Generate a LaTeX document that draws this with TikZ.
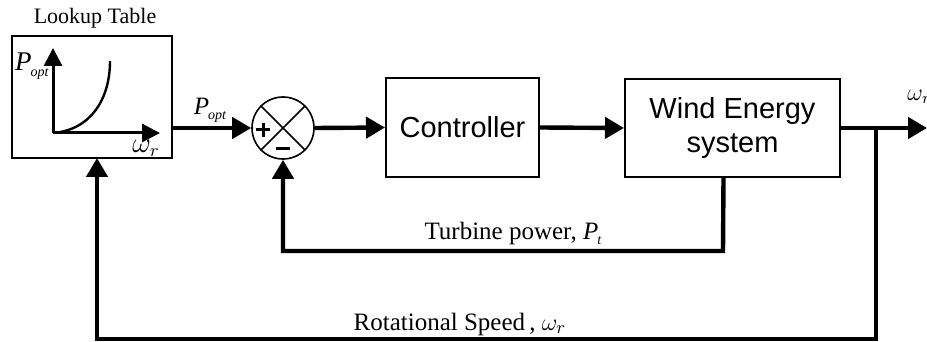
\documentclass[tikz,border=0pt]{standalone}
\usepackage{fontspec}
\setmainfont{Liberation Serif}
\newfontfamily\boxfont{Liberation Sans}
\usetikzlibrary{shapes,arrows.meta,positioning}
\newcommand{\Psub}[1]{\textit{P}\kern-0.5pt\raisebox{-0.45ex}{\scriptsize\textit{#1}}}
\begin{document}
\begin{tikzpicture}[x=0.5pt,y=-0.5pt,
      block/.style={rectangle,draw,line width=1pt,font=\boxfont\fontsize{14.5}{17}\selectfont,align=center},
      junction/.style={circle,draw,line width=0.8pt,minimum size=31pt,inner sep=0pt},
      signal/.style={line width=2.2pt,-{Triangle[length=9.5pt,width=10.5pt]}},
      label/.style={font=\fontsize{12}{14}\selectfont,inner sep=0pt}]
    \useasboundingbox (0,0) rectangle (927,342);
    % blocks
    \node[block,minimum width=80pt,minimum height=61pt] (lut) at (92,97) {};
    \node[label,font=\fontsize{11}{13}\selectfont] (luttitle) at (95,18) {Lookup Table};
    \node[junction] (sum) at (283,128) {};
    \node[block,minimum width=76.5pt,minimum height=49.5pt] (ctrl) at (462.5,127.5) {Controller};
    \node[block,minimum width=107.5pt,minimum height=49pt] (wes) at (732.5,128) {Wind Energy\\system};
    % curve inside the table
    \coordinate (o) at (53,133);
    \draw[line width=1.5pt,-{Triangle[length=9pt,width=9pt]}] (o) -- (53,48);
    \draw[line width=1.5pt,-{Triangle[length=9pt,width=9pt]}] (o) -- (160,133);
    \draw[line width=1.2pt] (o) .. controls (90,130) and (110,100) .. (110,61);
    \node[label,font=\fontsize{13.5}{15}\selectfont] (py) at (32,66) {\Psub{opt}};
    \node[label,font=\fontsize{13.5}{15}\selectfont] (wx) at (146,148) {$\omega_r$};
    % junction signs
    \draw[line width=0.8pt] (sum.north west) -- (sum.south east);
    \draw[line width=0.8pt] (sum.north east) -- (sum.south west);
    \coordinate (plus) at (263,130);
    \coordinate (minus) at (283,149);
    \draw[line width=1.5pt] ([xshift=-3.5pt]plus) -- ([xshift=3.5pt]plus) ([yshift=-3.5pt]plus) -- ([yshift=3.5pt]plus);
    \draw[line width=1.5pt] ([xshift=-3.5pt]minus) -- ([xshift=3.5pt]minus);
    % forward path
    \draw[signal] (sum.west -| lut.east) -- (sum.west);
    \node[label,font=\fontsize{12.5}{14}\selectfont] (poptlbl) at (210,110) {\Psub{opt}};
    \draw[signal] (sum.east) -- (ctrl.west);
    \draw[signal] (ctrl.east) -- (wes.west);
    \coordinate (out) at (927,128);
    \draw[signal] (wes.east) -- (out);
    \node[label,anchor=west] (wout) at (907,97) {$\omega_r$};
    % turbine power feedback
    \coordinate (tp) at (723,251);
    \draw[signal] ([xshift=-4.5pt]wes.south) -- (tp) -| (sum.south);
    \node[label,font=\fontsize{12.5}{14}\selectfont] (tplbl) at (513,233) {Turbine power, \Psub{t}};
    % rotational speed feedback
    \coordinate (br) at (876,128);
    \coordinate (rs) at (876,339);
    \coordinate (lutin) at (97,158);
    \draw[signal] (br) -- (rs) -| (lutin);
    \node[label,font=\fontsize{12.5}{14}\selectfont] (rslbl) at (460,324) {Rotational Speed\,, $\omega_r$};
\end{tikzpicture}
\end{document}
